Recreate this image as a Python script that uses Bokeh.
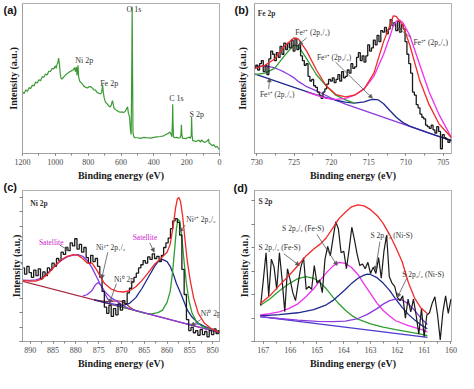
from bokeh.plotting import figure
from bokeh.models import (Range1d, SingleIntervalTicker, Label, Arrow, NormalHead,
                          CustomJSTickFormatter, Div)
from bokeh.layouts import gridplot, column
from bokeh.embed import file_html
from bokeh.resources import INLINE

# ---------------- (a) survey ----------------
survey_be = [1200, 1190, 1180, 1170, 1160, 1150, 1140, 1130, 1120, 1110, 1100, 1090, 1080, 1070, 1060,
             1050, 1040, 1030, 1020, 1010, 1000, 995, 990, 985, 980, 975, 970, 965, 960, 950, 940, 930,
             920, 910, 900, 890, 882, 878, 872, 868, 862, 858, 852, 845, 835, 825, 815, 805, 795, 785,
             775, 765, 755, 745, 735, 725, 718, 712, 708, 703, 695, 685, 675, 665, 660, 652, 648, 642,
             635, 625, 615, 605, 595, 585, 575, 565, 560, 555, 548, 542, 538, 534, 532, 530, 527, 522,
             515, 500, 480, 460, 440, 420, 400, 380, 360, 340, 325, 312, 302, 295, 290, 287, 285, 283,
             280, 270, 260, 250, 240, 235, 232, 229, 225, 215, 205, 195, 185, 178, 172, 170, 167, 163,
             155, 145, 135, 125, 115, 110, 100, 90, 80, 72, 67, 63, 55, 45, 35, 25, 15, 5, 0]
survey_counts = [198, 192, 204, 199, 211, 208, 219, 216, 229, 226, 236, 233, 246, 244, 254, 251, 263,
                 262, 272, 270, 280, 272, 284, 290, 305, 285, 255, 240, 238, 244, 250, 255, 258, 262,
                 265, 268, 275, 262, 276, 250, 282, 245, 232, 228, 222, 215, 212, 210, 214, 214, 210,
                 204, 203, 195, 193, 191, 195, 220, 198, 180, 165, 160, 153, 150, 155, 170, 160, 145,
                 142, 138, 135, 133, 134, 132, 135, 145, 150, 130, 118, 75, 62, 300, 468, 300, 70, 55,
                 52, 52, 50, 53, 52, 51, 53, 55, 56, 58, 63, 66, 70, 62, 55, 100, 158, 100, 54, 52, 53,
                 51, 52, 60, 93, 60, 51, 50, 49, 52, 54, 50, 60, 118, 60, 43, 42, 40, 42, 44, 38, 45,
                 40, 37, 40, 43, 48, 35, 32, 27, 30, 22, 25, 17, 15]
survey_labels = ["O 1s", "Ni 2p", "Fe 2p", "C 1s", "S 2p"]
survey_label_be = [566, 879, 727, 306, 182]
survey_label_y = [460, 298, 223, 175, 127]

# ---------------- (b) Fe 2p ----------------
fe_be = [730.25, 730.0, 729.75, 729.5, 729.25, 729.0, 728.75, 728.5, 728.25, 728.0,
         727.75, 727.5, 727.25, 727.0, 726.75, 726.5, 726.25, 726.0, 725.75, 725.5,
         725.25, 725.0, 724.75, 724.5, 724.25, 724.0, 723.75, 723.5, 723.25, 723.0,
         722.75, 722.5, 722.25, 722.0, 721.75, 721.5, 721.25, 721.0, 720.75, 720.5,
         720.25, 720.0, 719.75, 719.5, 719.25, 719.0, 718.75, 718.5, 718.25, 718.0,
         717.75, 717.5, 717.25, 717.0, 716.75, 716.5, 716.25, 716.0, 715.75, 715.5,
         715.25, 715.0, 714.75, 714.5, 714.25, 714.0, 713.75, 713.5, 713.25, 713.0,
         712.75, 712.5, 712.25, 712.0, 711.75, 711.5, 711.25, 711.0, 710.75, 710.5,
         710.25, 710.0, 709.75, 709.5, 709.25, 709.0, 708.75, 708.5, 708.25, 708.0,
         707.75, 707.5, 707.25, 707.0, 706.75, 706.5, 706.25, 706.0, 705.75, 705.5,
         705.25, 705.0, 704.75, 704.5, 704.25, 704.0]
fe_counts = [270, 280, 265, 285, 295, 260, 280, 250, 300, 325,
             315, 295, 320, 305, 340, 315, 350, 330, 350, 335,
             360, 325, 365, 330, 345, 310, 295, 280, 285, 245,
             230, 235, 215, 210, 195, 185, 175, 195, 205, 220,
             235, 230, 240, 225, 235, 250, 230, 260, 240, 245,
             265, 255, 285, 270, 275, 305, 320, 295, 310, 290,
             310, 345, 325, 335, 360, 345, 375, 355, 390, 385,
             400, 380, 395, 425, 405, 415, 390, 420, 385, 410,
             395, 355, 315, 285, 255, 195, 185, 155, 145, 125,
             115, 110, 90, 85, 80, 90, 75, 65, 85, 70,
             15, 60, 50, 45, 35, 45]
fe_env_be = [730.3, 728.9, 727.6, 726.3, 725.0, 724.4, 723.3, 722.0, 720.7, 719.4, 718.1, 716.9,
             715.6, 714.3, 713.0, 712.1, 711.7, 711.3, 710.4, 709.5, 708.2, 706.9, 705.6, 703.9]
fe_env = [270, 280, 300, 340, 367, 363, 325, 265, 215, 187, 180, 185,
          205, 255, 355, 410, 437, 435, 405, 345, 235, 155, 95, 50]
fe_mag_be = [723.3, 722.0, 720.7, 719.4, 718.1, 716.9, 715.6, 714.3, 713.0, 712.1, 711.7, 711.3,
             710.8, 710.4, 709.5, 708.2, 706.9, 705.6, 703.9]
fe_mag = [195, 185, 175, 172, 175, 185, 205, 245, 315, 375, 405, 420, 423, 415, 375, 285, 195, 125, 50]
fe_grn_be = [730.3, 728.9, 727.6, 726.3, 725.0, 724.4, 723.3, 722.0, 720.7, 719.4, 718.1, 716.9]
fe_grn = [250, 255, 270, 310, 345, 340, 300, 250, 215, 185, 170, 160]
fe_pur_be = [730.3, 729.5, 728.9, 728.2, 727.6, 726.9, 726.3, 725.6, 725.0, 724.4, 723.3, 722.0,
             720.7, 719.4, 718.1, 703.9]
fe_pur = [275, 277, 277, 275, 272, 265, 258, 249, 240, 228, 212, 199, 184, 169, 157, 40]
fe_nav_be = [730.3, 725.0, 722.0, 720.7, 719.4, 718.1, 716.9, 715.6, 714.8, 714.3, 713.7, 713.0,
             712.1, 711.3, 710.4, 709.5, 708.2, 706.9, 705.6, 703.9]
fe_nav = [253, 210, 186, 177, 169, 163, 160, 164, 170, 172, 170, 158, 135, 115, 98, 87, 76, 65, 54, 42]
fe_labels = ["Fe\u00b2\u207a (2p\u2081/\u2082)", "Fe\u00b3\u207a (2p\u2083/\u2082)",
             "Fe\u00b2\u207a (2p\u2083/\u2082)", "Fe\u00b3\u207a (2p\u2081/\u2082)"]
fe_label_be = [724.83, 721.94, 709.0, 729.57]
fe_label_y = [385, 305, 353, 188]
fe_arrows = [(723.32, 367, 724.4, 345), (719.44, 290, 714.48, 175),
             (709.3, 367, 711.16, 400), (728.4, 205, 728.27, 240)]

# ---------------- (c) Ni 2p ----------------
ni_be = [891.5, 891.0, 890.5, 890.0, 889.5, 889.0, 888.5, 888.0, 887.5, 887.0,
         886.5, 886.0, 885.5, 885.0, 884.5, 884.0, 883.5, 883.0, 882.5, 882.0,
         881.5, 881.0, 880.5, 880.0, 879.5, 879.0, 878.5, 878.0, 877.5, 877.0,
         876.5, 876.0, 875.5, 875.0, 874.5, 874.0, 873.5, 873.0, 872.5, 872.0,
         871.5, 871.0, 870.5, 870.0, 869.5, 869.0, 868.5, 868.0, 867.5, 867.0,
         866.5, 866.0, 865.5, 865.0, 864.5, 864.0, 863.5, 863.0, 862.5, 862.0,
         861.5, 861.0, 860.5, 860.0, 859.5, 859.0, 858.5, 858.0, 857.5, 857.0,
         856.5, 856.0, 855.5, 855.0, 854.5, 854.0, 853.5, 853.0, 852.5, 852.0,
         851.5, 851.0, 850.5, 850.0, 849.5, 849.0, 848.5]
ni_counts = [235, 215, 240, 220, 205, 228, 210, 232, 200, 222,
             210, 235, 228, 250, 240, 265, 258, 285, 278, 300,
             290, 315, 305, 328, 295, 310, 285, 300, 268, 250,
             275, 255, 265, 240, 205, 160, 110, 90, 115, 80,
             105, 85, 120, 100, 130, 120, 155, 170, 190, 205,
             218, 235, 245, 258, 250, 270, 262, 280, 265, 272,
             255, 275, 300, 315, 330, 360, 385, 392, 380, 340,
             230, 150, 70, 35, 45, 28, 35, 20, 38, 22,
             32, 15, 35, 22, 40, 25, 35]
ni_env_be = [891.85, 890.14, 888.77, 887.40, 886.03, 884.66, 883.29, 881.92, 880.55, 879.52,
             878.49, 877.47, 876.44, 875.41, 874.73, 873.70, 872.33, 870.96, 869.59, 868.22,
             866.85, 865.48, 864.11, 862.74, 861.37, 860.68, 860.0, 859.32, 858.63, 858.15,
             857.74, 857.40, 857.06, 856.58, 856.03, 855.55, 854.86, 854.18, 853.15, 851.78,
             850.41, 848.36]
ni_env = [195, 193, 193, 200, 218, 240, 260, 272, 277, 275,
          265, 250, 250, 228, 210, 185, 168, 160, 158, 162,
          175, 195, 220, 247, 265, 275, 285, 310, 370, 425,
          455, 460, 448, 400, 320, 255, 190, 140, 90, 58,
          42, 28]
ni_sat1_be = [891.85, 890.14, 888.77, 887.40, 886.03, 884.66, 883.29, 881.92, 880.55, 879.52,
              878.49, 877.47, 876.44, 875.41, 874.73, 873.70, 872.33, 870.96, 869.59, 868.22, 848.36]
ni_sat1 = [196, 195, 197, 203, 220, 240, 258, 270, 276, 277,
           272, 258, 235, 205, 185, 160, 140, 128, 114, 104, 28]
ni_p12_be = [878.49, 877.47, 876.44, 875.75, 875.1, 874.4, 873.70, 873.0, 872.33, 871.3, 870.0]
ni_p12 = [145, 150, 163, 180, 188, 178, 155, 135, 122, 116, 110]
ni_sat2_be = [876.0, 872.33, 869.59, 868.22, 866.85, 865.48, 864.11, 862.74, 861.8, 861.0, 860.0,
              859.32, 858.63, 857.95, 856.9, 855.55, 854.52, 853.15, 851.78, 850.41, 848.36]
ni_sat2 = [133, 120, 115, 122, 140, 170, 205, 240, 258, 262, 255,
           240, 215, 185, 150, 100, 78, 58, 48, 40, 30]
ni_p32_be = [872.0, 868.0, 864.8, 863.4, 862.0, 861.0, 860.0, 859.32, 858.8, 858.3, 857.95, 857.6,
             857.2, 856.8, 856.3, 855.8, 855.2, 854.5, 853.5, 852.5, 851.1, 849.7, 848.36]
ni_p32 = [118, 103, 90, 88, 92, 100, 125, 160, 220, 300, 360, 390,
          385, 340, 260, 190, 130, 90, 62, 50, 42, 36, 30]
ni_m1_be = [876.0, 874.5, 873.0, 872.0, 871.0, 870.0, 869.0, 868.0, 867.0, 866.0]
ni_m1 = [133, 130, 127, 128, 130, 128, 120, 108, 99, 95]
ni_m2_be = [856.0, 855.0, 854.0, 853.2, 852.5, 851.8, 851.0, 850.0]
ni_m2 = [57, 55, 55, 57, 54, 46, 39, 34]
ni_bg_be = [891.85, 848.36]
ni_bg = [193, 28]
ni_labels = ["Satellite", "Ni\u00b2\u207a 2p\u2081/\u2082", "Ni\u2070 2p", "Satellite",
             "Ni\u00b2\u207a 2p\u2083/\u2082", "Ni\u2070 2p"]
ni_label_be = [888.1, 875.6, 871.63, 867.55, 855.8, 852.6]
ni_label_y = [315, 300, 198, 333, 390, 90]
ni_arrows = [(883.54, 308, 881.5, 290), (873.0, 285, 874.35, 200), (871.1, 185, 872.65, 122),
             (863.8, 315, 862.8, 285), (856.0, 372, 857.35, 350), (852.6, 70, 854.76, 50)]

# ---------------- (d) S 2p ----------------
s_be = [167.1, 167.0, 166.9, 166.8, 166.7, 166.6, 166.5, 166.4, 166.3, 166.2,
        166.1, 166.0, 165.9, 165.8, 165.7, 165.6, 165.5, 165.4, 165.3, 165.2,
        165.1, 165.0, 164.9, 164.8, 164.7, 164.6, 164.5, 164.4, 164.3, 164.2,
        164.1, 164.0, 163.9, 163.8, 163.7, 163.6, 163.5, 163.4, 163.3, 163.2,
        163.1, 163.0, 162.9, 162.8, 162.7, 162.6, 162.5, 162.4, 162.3, 162.2,
        162.1, 162.0, 161.9, 161.8, 161.7, 161.6, 161.5, 161.4, 161.3, 161.2,
        161.1, 161.0, 160.9, 160.8, 160.7, 160.6, 160.5, 160.4, 160.3, 160.2,
        160.1, 160.0]
s_counts = [113, 193, 278, 143, 258, 233, 163, 278, 193, 93,
            228, 193, 153, 128, 183, 233, 263, 163, 173, 163,
            238, 183, 193, 153, 258, 298, 268, 323, 375, 353,
            278, 283, 228, 288, 358, 318, 273, 238, 243, 228,
            248, 213, 233, 213, 263, 198, 283, 333, 203, 183,
            173, 138, 128, 143, 73, 133, 93, 133, 83, 23,
            103, 15, 83, 90, 120, 140, 83, 5, 93, 143,
            88, 133]
s_env_be = [167.12, 166.76, 166.41, 166.06, 165.71, 165.41, 165.12, 164.88, 164.65, 164.41, 164.18,
            163.94, 163.71, 163.47, 163.24, 163.0, 162.76, 162.53, 162.29, 162.06, 161.82, 161.59,
            161.35, 161.12, 160.88]
s_env = [118, 143, 175, 205, 238, 268, 290, 305, 325, 355, 385,
         405, 422, 428, 425, 413, 395, 370, 335, 295, 250, 185,
         135, 105, 88]
s_grn_be = [167.12, 166.76, 166.41, 166.06, 165.71, 165.41, 165.12, 164.88, 164.65, 164.41, 164.18,
            163.94, 163.71, 163.47, 163.0, 162.53, 162.06, 161.59, 161.12, 160.88]
s_grn = [113, 133, 158, 180, 197, 203, 198, 185, 165, 140, 118, 98, 82, 70, 55, 45, 37, 30, 23, 18]
s_mag_be = [167.12, 166.76, 166.41, 166.06, 165.71, 165.41, 165.12, 164.88, 164.65, 164.41, 164.18,
            163.94, 163.71, 163.47, 163.24, 163.0, 162.76, 162.53, 162.29, 162.06, 161.59, 161.12,
            160.88]
s_mag = [83, 87, 93, 103, 118, 140, 165, 192, 215, 236, 248, 245, 232, 210, 180, 150, 120, 97, 80,
         65, 50, 38, 30]
s_nav_be = [167.12, 166.41, 165.71, 165.12, 164.65, 164.41, 164.18, 163.94, 163.71, 163.47, 163.24,
            163.12, 163.0, 162.76, 162.53, 162.29, 162.06, 161.82, 161.59, 161.35, 161.12, 160.88]
s_nav = [80, 84, 90, 100, 115, 128, 145, 163, 182, 198, 208, 211, 210, 200, 183, 160, 133, 107, 85,
         67, 52, 40]
s_pur_be = [167.12, 166.41, 165.71, 165.0, 164.41, 163.94, 163.47, 163.12, 162.76, 162.53, 162.29,
            162.06, 161.82, 161.59, 161.35, 161.12, 160.88]
s_pur = [78, 72, 67, 63, 62, 64, 72, 85, 103, 117, 128, 133, 130, 118, 97, 73, 53]
s_bg_be = [167.12, 160.88]
s_bg = [78, 13]
s_labels = ["S 2p\u2081/\u2082 (Fe-S)", "S 2p\u2083/\u2082 (Fe-S)", "S 2p\u2081/\u2082 (Ni-S)",
            "S 2p\u2083/\u2082 (Ni-S)"]
s_label_be = [167.18, 166.3, 163.0, 161.82]
s_label_y = [293, 353, 331, 211]
s_arrows = [(166.24, 275, 165.65, 238), (165.0, 335, 164.24, 238),
            (162.65, 313, 162.82, 223), (161.65, 198, 162.0, 138)]

# panel letters: text and position (left, top) in px inside the layout
panel_letters = ["(a)", "(b)", "(c)", "(d)"]
letter_left = [3.5, 234.6, 3.5, 233.6]
letter_top = [1.7, 1.7, 179.3, 179.7]

# ---------------- styling ----------------
SERIF = "Liberation Serif"
SANS = "Liberation Sans"
RED = "#f02a2a"
MAGENTA = "#ee30ee"
GREEN = "#2f9e2f"
NAVY = "#1f2a8f"
PURPLE = "#8a3be0"
MAROON = "#a8283c"
BLACK = "#1a1a1a"
SURVEY = "#3c9a34"
SAT = "#d020d0"


def base_fig(width, height, border, xr, yr, x_interval, ylab_standoff, y_interval=None):
    left, right, top, bottom = border
    p = figure(width=width, height=height, x_range=Range1d(*xr), y_range=Range1d(*yr),
               min_border_left=left, min_border_right=right, min_border_top=top,
               min_border_bottom=bottom, output_backend="svg", toolbar_location=None)
    p.xgrid.visible = False
    p.ygrid.visible = False
    p.outline_line_color = "#b0b0b0"
    p.background_fill_color = "white"
    p.border_fill_color = "white"
    xa = p.xaxis[0]
    xa.ticker = SingleIntervalTicker(interval=x_interval, num_minor_ticks=2)
    xa.axis_line_color = "#a0a0a0"
    xa.major_tick_line_color = "#808080"
    xa.minor_tick_line_color = "#808080"
    xa.major_tick_in = 0
    xa.major_tick_out = 2
    xa.minor_tick_in = 0
    xa.minor_tick_out = 2
    xa.major_label_text_font = SERIF
    xa.major_label_text_font_size = "8px"
    xa.major_label_text_color = "#4a4a4a"
    xa.major_label_standoff = 3
    xa.axis_label = "Binding energy (eV)"
    xa.axis_label_text_font = SERIF
    xa.axis_label_text_font_style = "bold"
    xa.axis_label_text_font_size = "10px"
    xa.axis_label_text_color = "#1a1a1a"
    xa.axis_label_standoff = 2
    ya = p.yaxis[0]
    ya.formatter = CustomJSTickFormatter(code="return ''")
    ya.axis_line_color = "#a0a0a0"
    ya.major_label_standoff = 0
    ya.axis_label = "Intensity (a.u.)"
    ya.axis_label_text_font = SERIF
    ya.axis_label_text_font_style = "bold"
    ya.axis_label_text_font_size = "10px"
    ya.axis_label_text_color = "#1a1a1a"
    ya.axis_label_standoff = ylab_standoff
    ya.minor_tick_line_color = None
    ya.minor_tick_in = 0
    ya.minor_tick_out = 0
    if y_interval is None:
        ya.major_tick_line_color = None
        ya.major_tick_in = 0
        ya.major_tick_out = 0
    else:
        ya.ticker = SingleIntervalTicker(interval=y_interval, num_minor_ticks=0)
        ya.major_tick_line_color = "#808080"
        ya.major_tick_in = 0
        ya.major_tick_out = 3
    return p


def add_texts(p, texts, xs, ys, size="7.5px", color="#333333", style="normal"):
    for t, x, y in zip(texts, xs, ys):
        p.add_layout(Label(x=x, y=y, text=t, text_font=SERIF, text_font_size=size,
                           text_color=color, text_font_style=style,
                           text_align="left", text_baseline="middle"))


def add_arrows(p, arrows, color="#555555"):
    for x0, y0, x1, y1 in arrows:
        p.add_layout(Arrow(end=NormalHead(size=4, fill_color=color, line_color=color, line_width=0.5),
                           x_start=x0, y_start=y0, x_end=x1, y_end=y1,
                           line_color=color, line_width=0.8))


# (a)
pa = base_fig(229, 183, (22, 10, 1, 28), (1200, 0), (2, 478), 200, 4)
pa.line(survey_be, survey_counts, line_color=SURVEY, line_width=1.2)
add_texts(pa, survey_labels, survey_label_be, survey_label_y, size="8px", color="#333333")

# (b)
pb = base_fig(229, 183, (25, 7, 3, 28), (730.3, 703.9), (0, 476), 5, 7)
pb.line(fe_pur_be, fe_pur, line_color=PURPLE, line_width=1.3)
pb.line(fe_nav_be, fe_nav, line_color=NAVY, line_width=1.3)
pb.line(fe_grn_be, fe_grn, line_color=GREEN, line_width=1.3)
pb.step(fe_be, fe_counts, mode="center", line_color=BLACK, line_width=1.3)
pb.line(fe_mag_be, fe_mag, line_color=MAGENTA, line_width=1.3)
pb.line(fe_env_be, fe_env, line_color=RED, line_width=1.3)
add_texts(pb, ["Fe 2p"], [729.87], [445], style="bold")
add_texts(pb, fe_labels, fe_label_be, fe_label_y)
add_arrows(pb, fe_arrows)

# (c)
pc = base_fig(229, 190, (18, 7, 7, 29), (891.7, 848.5), (0, 482), 5, -2, y_interval=46)
pc.line(ni_bg_be, ni_bg, line_color=MAROON, line_width=1.3)
pc.line(ni_m1_be, ni_m1, line_color=MAROON, line_width=1.2)
pc.line(ni_m2_be, ni_m2, line_color=PURPLE, line_width=1.2)
pc.line(ni_sat2_be, ni_sat2, line_color=NAVY, line_width=1.3)
pc.line(ni_p32_be, ni_p32, line_color=GREEN, line_width=1.3)
pc.line(ni_p12_be, ni_p12, line_color=PURPLE, line_width=1.3)
pc.line(ni_sat1_be, ni_sat1, line_color=PURPLE, line_width=1.3)
pc.step(ni_be, ni_counts, mode="center", line_color=BLACK, line_width=1.3)
pc.line(ni_env_be, ni_env, line_color=RED, line_width=1.3)
add_texts(pc, ["Ni 2p"], [890.0], [442], style="bold")
for t, x, y in zip(ni_labels, ni_label_be, ni_label_y):
    add_texts(pc, [t], [x], [y], color=SAT if t == "Satellite" else "#333333")
add_arrows(pc, ni_arrows)

# (d)
pd = base_fig(229, 190, (23, 5, 7, 32), (167.33, 159.98), (0, 473), 1, 2, y_interval=73.5)
pd.line(s_bg_be, s_bg, line_color="#4a3ad0", line_width=1.3)
pd.line(s_grn_be, s_grn, line_color=GREEN, line_width=1.3)
pd.line(s_mag_be, s_mag, line_color=MAGENTA, line_width=1.3)
pd.line(s_nav_be, s_nav, line_color=NAVY, line_width=1.3)
pd.line(s_pur_be, s_pur, line_color=PURPLE, line_width=1.3)
pd.line(s_be, s_counts, line_color=BLACK, line_width=1.2)
pd.line(s_env_be, s_env, line_color=RED, line_width=1.3)
add_texts(pd, ["S 2p"], [167.18], [438], style="bold")
add_texts(pd, s_labels, s_label_be, s_label_y)
add_arrows(pd, s_arrows)

grid = gridplot([[pa, pb], [pc, pd]], toolbar_location=None)

letter_divs = []
for t, lx, ty in zip(panel_letters, letter_left, letter_top):
    html = ('<span style="font-family:\'Liberation Sans\';font-weight:bold;font-size:11px;'
            'line-height:12px;color:#111111;white-space:nowrap">' + t + '</span>')
    letter_divs.append(Div(text=html, width=18, height=12,
                           styles={"position": "absolute", "left": f"{lx}px", "top": f"{ty}px",
                                   "margin": "0", "padding": "0"}))

root = column([grid] + letter_divs, styles={"position": "relative"})
open("out.html", "w").write(file_html(root, INLINE))
